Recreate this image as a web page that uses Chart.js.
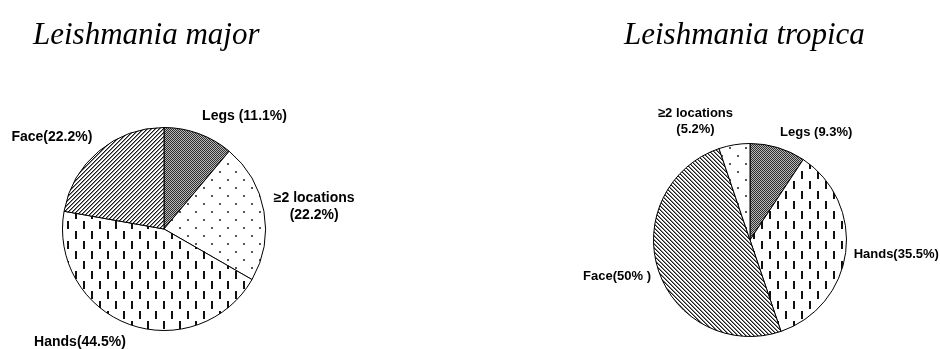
<!DOCTYPE html>
<html>
<head>
<meta charset="utf-8">
<script src="https://cdn.jsdelivr.net/npm/chart.js@4"></script>
<style>
  body { margin: 0; background: #fff; }
  #wrap { position: relative; width: 940px; height: 349px; overflow: hidden; }
  canvas { position: absolute; top: 0; }
  .ttl { position: absolute; top: 16px; font: italic 31px "Liberation Serif", "Times New Roman", serif; color: #000; white-space: nowrap; }
</style>
</head>
<body>
<div id="wrap">
  <canvas id="majorChart" width="470" height="349" style="left:0"></canvas>
  <canvas id="tropicaChart" width="470" height="349" style="left:470px"></canvas>
  <div class="ttl" style="left:33px">Leishmania major</div>
  <div class="ttl" style="left:624px">Leishmania tropica</div>
</div>
<script>
'use strict'

// L. major, clockwise from 12 o'clock
const majorCategories = ['Legs', '≥2 locations', 'Hands', 'Face'];
const majorValues = [11.1, 22.2, 44.5, 22.2];
const majorLabels = ['Legs (11.1%)', '≥2 locations\n(22.2%)', 'Hands(44.5%)', 'Face(22.2%)'];

// L. tropica, clockwise from 12 o'clock
const tropicaCategories = ['Legs', 'Hands', 'Face', '≥2 locations'];
const tropicaValues = [9.3, 35.5, 50, 5.2];
const tropicaLabels = ['Legs (9.3%)', 'Hands(35.5%)', 'Face(50% )', '≥2 locations\n(5.2%)'];

function makeTile(w, h, draw) {
    const c = document.createElement('canvas');
    c.width = w;
    c.height = h;
    const g = c.getContext('2d');
    g.fillStyle = '#fff';
    g.fillRect(0, 0, w, h);
    draw(g);
    return g.createPattern(c, 'repeat');
}

function stripes(upward) {
    return makeTile(4, 4, g => {
        for (let i = 0; i < 4; i++) {
            const x = upward ? 3 - i : i;
            g.fillStyle = '#1a1a1a';
            g.fillRect(x, i, 1, 1);
            g.fillStyle = '#8a8a8a';
            g.fillRect((x + 1) % 4, i, 1, 1);
        }
    });
}

function patternsFor(faceUpward) {
    return {
        'Legs': makeTile(2, 2, g => {
            g.fillStyle = '#b8b8b8';
            g.fillRect(0, 0, 2, 2);
            g.fillStyle = '#2e2e2e';
            g.fillRect(0, 0, 1, 1);
            g.fillRect(1, 1, 1, 1);
        }),
        '≥2 locations': makeTile(16, 16, g => {
            g.fillStyle = '#555';
            g.fillRect(3, 3, 2, 2);
            g.fillRect(11, 11, 2, 2);
        }),
        'Hands': makeTile(16, 20, g => {
            g.fillStyle = '#111';
            g.fillRect(3, 1, 2, 8);
            g.fillRect(11, 11, 2, 8);
        }),
        'Face': stripes(faceUpward)
    };
}

// labels sit just outside each slice, pushed away from the pie
const outsideLabels = {
    id: 'outsideLabels',
    afterDatasetsDraw(chart, args, opts) {
        const ctx = chart.ctx;
        const meta = chart.getDatasetMeta(0);
        ctx.save();
        ctx.font = 'bold ' + opts.size + 'px "Liberation Sans", Arial, sans-serif';
        ctx.fillStyle = '#000';
        ctx.textBaseline = 'middle';
        ctx.textAlign = 'center';
        meta.data.forEach((arc, i) => {
            const p = arc.getProps(['x', 'y', 'startAngle', 'endAngle', 'outerRadius'], true);
            const mid = (p.startAngle + p.endAngle) / 2;
            const r = p.outerRadius + opts.offset;
            const ax = p.x + Math.cos(mid) * r;
            const ay = p.y + Math.sin(mid) * r;
            const lines = opts.labels[i].split('\n');
            const w = Math.max(...lines.map(t => ctx.measureText(t).width));
            const lh = opts.size + 3;
            const h = lines.length * lh;
            const cx = Math.cos(mid) >= 0 ? ax + w / 2 : ax - w / 2;
            const cy = ay + Math.sin(mid) * h / 2;
            const top = cy - (lines.length - 1) * lh / 2;
            lines.forEach((t, k) => ctx.fillText(t, cx, top + k * lh));
        });
        ctx.restore();
    }
};

function pieChart(canvasId, cats, vals, labels, pats, padding, size, offset) {
    return new Chart(document.getElementById(canvasId), {
        type: 'pie',
        data: {
            labels: cats,
            datasets: [{
                data: vals,
                backgroundColor: cats.map(c => pats[c]),
                borderColor: '#000',
                borderWidth: 1
            }]
        },
        options: {
            responsive: false,
            animation: false,
            layout: { padding: padding },
            plugins: {
                legend: { display: false },
                tooltip: { enabled: false },
                outsideLabels: { labels: labels, size: size, offset: offset }
            }
        },
        plugins: [outsideLabels]
    });
}

pieChart('majorChart', majorCategories, majorValues, majorLabels, patternsFor(true),
    { left: 62, right: 204, top: 127, bottom: 18 }, 14, 10);
pieChart('tropicaChart', tropicaCategories, tropicaValues, tropicaLabels, patternsFor(false),
    { left: 183, right: 93, top: 143, bottom: 12 }, 13, 8);
</script>
</body>
</html>
